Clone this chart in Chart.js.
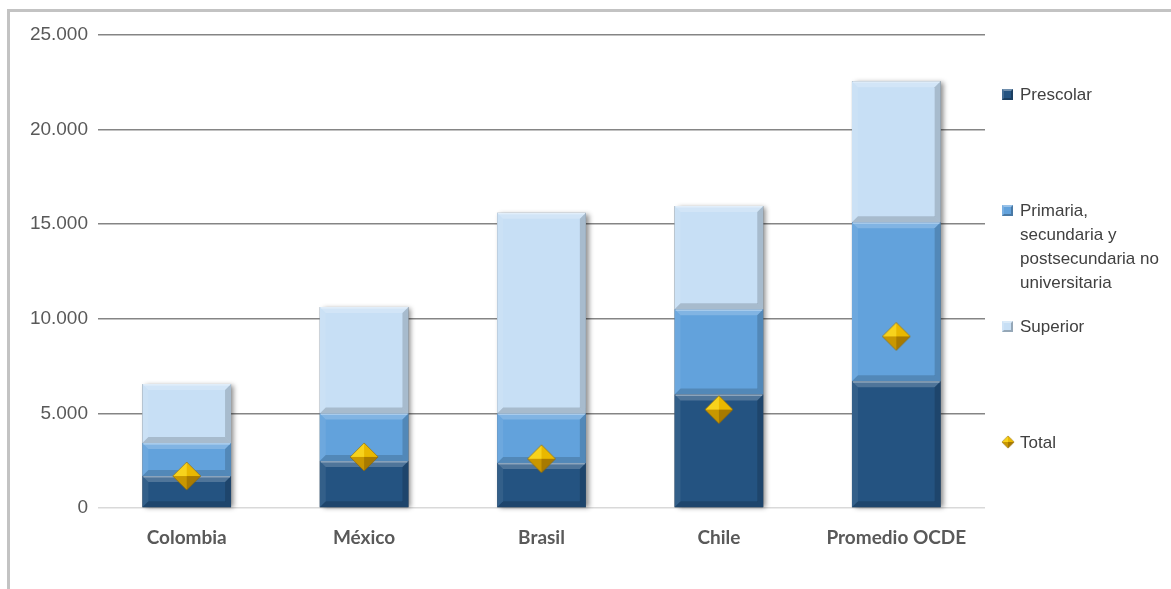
<!DOCTYPE html>
<html>
<head>
<meta charset="utf-8">
<script src="https://cdn.jsdelivr.net/npm/chart.js@4"></script>
<style>
  html, body { margin: 0; padding: 0; background: #fff; }
  #wrap { position: relative; width: 1171px; height: 589px; overflow: hidden; }
  #frame { position: absolute; left: 7px; top: 9px; right: -5px; bottom: -5px;
           border-top: 3px solid #c3c3c3; border-left: 3px solid #c3c3c3; pointer-events: none; }
  #legend { position: absolute; left: 1001px; top: 0; width: 170px; font-family: "Liberation Sans", Arial, sans-serif;
            font-size: 17px; color: #404040; line-height: 24px; }
  .item { position: absolute; left: 0; width: 160px; display: flex; align-items: flex-start; }
  .item .txt { width: 152px; }
  .sw { flex: none; width: 11px; height: 11px; margin: 6px 7px 0 1px; box-sizing: border-box; }
</style>
</head>
<body>
<div id="wrap">
  <canvas id="myChart" width="1171" height="589"></canvas>
  <div id="frame"></div>
  <div id="legend"></div>
</div>
<script>
const categories = ['Colombia', 'México', 'Brasil', 'Chile', 'Promedio OCDE'];
const seriesNames = ['Prescolar', 'Primaria, secundaria y postsecundaria no universitaria', 'Superior', 'Total'];
const prescolar = [1690, 2480, 2380, 6000, 6700];
const primaria = [1740, 2520, 2620, 4500, 8400];
const superior = [3120, 5620, 10600, 5460, 7460];
const total = [1690, 2700, 2600, 5200, 9070];
const yTicks = [0, 5000, 10000, 15000, 20000, 25000];

const barColors = ['#245381', '#62a2dc', '#c7dff5'];
const legendTops = [83, 199, 315, 431];

function fmt(v) {
    return String(v).replace(/\B(?=(\d{3})+(?!\d))/g, '.');
}

// gold pyramid diamond used as point style
function makeDiamond(r) {
    const c = document.createElement('canvas');
    c.width = c.height = r * 2 + 2;
    const g = c.getContext('2d');
    const m = r + 1;
    const faces = [
        [[m, 1], [1, m], '#f7d21c'],
        [[m, 1], [m * 2 - 1, m], '#e9b800'],
        [[1, m], [m, m * 2 - 1], '#c99700'],
        [[m * 2 - 1, m], [m, m * 2 - 1], '#a87a00']
    ];
    for (const f of faces) {
        g.beginPath();
        g.moveTo(m, m);
        g.lineTo(f[0][0], f[0][1]);
        g.lineTo(f[1][0], f[1][1]);
        g.closePath();
        g.fillStyle = f[2];
        g.fill();
    }
    g.beginPath();
    g.moveTo(m, 1); g.lineTo(m * 2 - 1, m); g.lineTo(m, m * 2 - 1); g.lineTo(1, m); g.closePath();
    g.strokeStyle = 'rgba(140,100,0,0.6)';
    g.lineWidth = 1;
    g.stroke();
    return c;
}
const diamond = makeDiamond(14);

// bevel look on each bar segment
const bevel = {
    id: 'bevel',
    beforeDatasetsDraw(chart) {
        const metas = chart.getSortedVisibleDatasetMetas().filter(m => m.type === 'bar');
        if (!metas.length) return;
        const c = chart.ctx;
        c.save();
        metas[0].data.forEach((el, i) => {
            const topEl = metas[metas.length - 1].data[i];
            const l = el.x - el.width / 2;
            c.shadowColor = 'rgba(0,0,0,0.45)';
            c.shadowBlur = 5;
            c.shadowOffsetX = 3;
            c.shadowOffsetY = 1;
            c.fillStyle = '#555';
            c.fillRect(l, topEl.y, el.width, el.base - topEl.y);
        });
        c.restore();
    },
    afterDatasetDraw(chart, args) {
        if (args.meta.type !== 'bar') return;
        const c = chart.ctx;
        const b = 6;
        c.save();
        args.meta.data.forEach(el => {
            const l = el.x - el.width / 2, r = el.x + el.width / 2;
            const t = Math.min(el.y, el.base), bt = Math.max(el.y, el.base);
            const poly = (pts, col) => {
                c.beginPath();
                c.moveTo(pts[0][0], pts[0][1]);
                for (const p of pts.slice(1)) c.lineTo(p[0], p[1]);
                c.closePath();
                c.fillStyle = col;
                c.fill();
            };
            poly([[l, t], [r, t], [r - b, t + b], [l + b, t + b]], 'rgba(255,255,255,0.2)');
            poly([[l, t], [l + b, t + b], [l + b, bt - b], [l, bt]], 'rgba(255,255,255,0.07)');
            poly([[r, t], [r - b, t + b], [r - b, bt - b], [r, bt]], 'rgba(0,0,0,0.16)');
            poly([[l, bt], [l + b, bt - b], [r - b, bt - b], [r, bt]], 'rgba(0,0,0,0.16)');
            c.fillStyle = 'rgba(255,255,255,0.35)';
            c.fillRect(l + 1, t, r - l - 2, 1.5);
        });
        c.restore();
    }
};

const ctx = document.getElementById('myChart');
const chart = new Chart(ctx, {
    type: 'bar',
    data: {
        labels: categories,
        datasets: [
            {
                type: 'line',
                label: seriesNames[3],
                data: total,
                showLine: false,
                pointStyle: diamond,
                order: 0
            },
            { label: seriesNames[0], data: prescolar, backgroundColor: barColors[0], order: 1 },
            { label: seriesNames[1], data: primaria, backgroundColor: barColors[1], order: 1 },
            { label: seriesNames[2], data: superior, backgroundColor: barColors[2], order: 1 }
        ]
    },
    options: {
        responsive: false,
        animation: false,
        layout: { padding: { top: 35, right: 186, bottom: 0, left: 0 } },
        datasets: { bar: { categoryPercentage: 1, barPercentage: 0.5 } },
        plugins: { legend: { display: false }, tooltip: { enabled: false } },
        scales: {
            x: {
                stacked: true,
                grid: { display: false },
                border: { display: false },
                ticks: {
                    color: '#595959',
                    padding: 10,
                    font: { family: 'Lato, "Open Sans", sans-serif', size: 19, weight: 'bold' }
                },
                afterFit: s => { s.height = 81; }
            },
            y: {
                stacked: true,
                min: 0,
                max: 25000,
                afterBuildTicks: s => { s.ticks = yTicks.map(v => ({ value: v })); },
                grid: {
                    drawTicks: false,
                    color: c => c.tick && c.tick.value === 0 ? '#d9d9d9' : '#858585',
                    lineWidth: 1.6
                },
                border: { display: false },
                ticks: {
                    color: '#595959',
                    padding: 10,
                    font: { family: '"Liberation Sans", Arial, sans-serif', size: 19 },
                    callback: v => fmt(v)
                },
                afterFit: s => { s.width = 98; }
            }
        }
    },
    plugins: [bevel]
});

// legend on the right
const legend = document.getElementById('legend');
const order = [0, 1, 2, 3];
order.forEach((k, i) => {
    const item = document.createElement('div');
    item.className = 'item';
    item.style.top = legendTops[i] + 'px';
    const sw = document.createElement('span');
    sw.className = 'sw';
    if (k < 3) {
        sw.style.background = barColors[k];
        sw.style.border = '2px solid rgba(0,0,0,0.25)';
        sw.style.borderTopColor = 'rgba(255,255,255,0.35)';
        sw.style.borderLeftColor = 'rgba(255,255,255,0.15)';
    } else {
        sw.style.width = '14px';
        sw.style.height = '14px';
        sw.style.margin = '4px 5px 0 0';
        sw.style.background = 'url(' + makeDiamond(7).toDataURL() + ') center/contain no-repeat';
    }
    const txt = document.createElement('span');
    txt.className = 'txt';
    txt.textContent = seriesNames[k];
    item.appendChild(sw);
    item.appendChild(txt);
    legend.appendChild(item);
});
</script>
</body>
</html>
